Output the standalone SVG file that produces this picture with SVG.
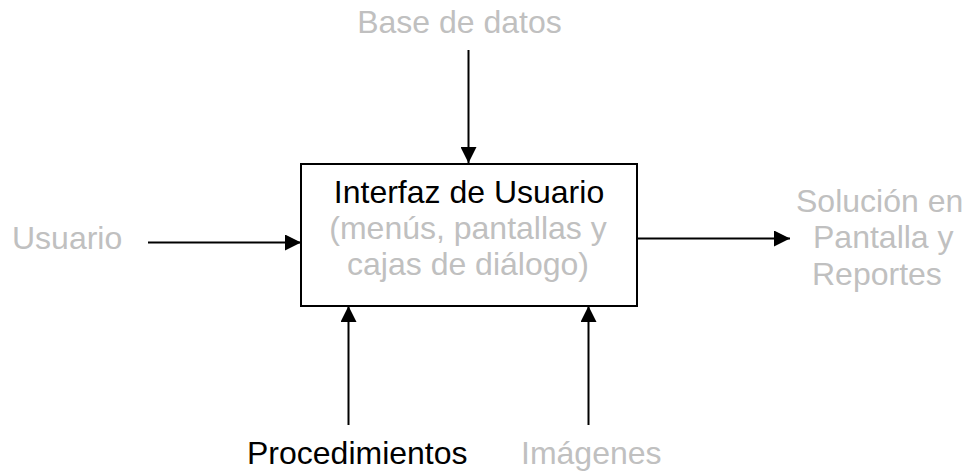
<svg xmlns="http://www.w3.org/2000/svg" width="966" height="473" viewBox="0 0 966 473">
<style>
text{font-family:"Liberation Sans",Arial,sans-serif;font-size:32px}
.g{fill:#c0c0c0}
.k{fill:#000}
.c{text-anchor:middle}
.ln{stroke:#000;stroke-width:2;fill:none}
</style>
<defs>
<marker id="ah" viewBox="0 0 16 16" refX="16" refY="8" markerWidth="16" markerHeight="16" markerUnits="userSpaceOnUse" orient="auto">
<path d="M0,0 L16,8 L0,16 Z" fill="#000"/>
</marker>
</defs>
<rect width="966" height="473" fill="#fff"/>
<g id="connectors">
<line class="ln" x1="468.5" y1="50" x2="468.5" y2="163" marker-end="url(#ah)"/>
<line class="ln" x1="148" y1="242.5" x2="301" y2="242.5" marker-end="url(#ah)"/>
<line class="ln" x1="637" y1="238.5" x2="790" y2="238.5" marker-end="url(#ah)"/>
<line class="ln" x1="348.5" y1="425" x2="348.5" y2="306" marker-end="url(#ah)"/>
<line class="ln" x1="588.5" y1="425" x2="588.5" y2="306" marker-end="url(#ah)"/>
</g>
<g id="node-interfaz">
<rect x="301" y="164" width="336" height="142" fill="#fff" stroke="#000" stroke-width="2"/>
<text class="k c" x="469" y="203">Interfaz de Usuario</text>
<text class="g c" x="468" y="239">(menús, pantallas y</text>
<text class="g c" x="468" y="275">cajas de diálogo)</text>
</g>
<g id="node-base"><text class="g c" x="459.5" y="33">Base de datos</text></g>
<g id="node-usuario"><text class="g" x="12" y="249">Usuario</text></g>
<g id="node-solucion">
<text class="g" x="796" y="212">Solución en</text>
<text class="g" x="813" y="248">Pantalla y</text>
<text class="g" x="812" y="285">Reportes</text>
</g>
<g id="node-procedimientos"><text class="k" x="247" y="464">Procedimientos</text></g>
<g id="node-imagenes"><text class="g" x="521" y="464">Imágenes</text></g>
</svg>
